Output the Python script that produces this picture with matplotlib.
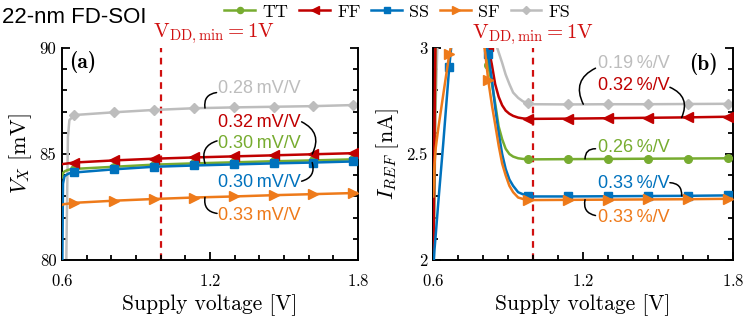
import numpy as np
import matplotlib
matplotlib.use("Agg")
import matplotlib.pyplot as plt
from matplotlib.ticker import MultipleLocator, FuncFormatter
from matplotlib.lines import Line2D

plt.rcParams.update({
    "mathtext.fontset": "cm", "axes.linewidth": 1.4,
    "axes.formatter.use_mathtext": True,
})

corners = ["TT", "FF", "SS", "SF", "FS"]
COL = {"TT": "#77AC30", "FF": "#C00000", "SS": "#0072BD", "SF": "#EE7A1A", "FS": "#BDBDBD"}
MK = {"TT": "o", "FF": "<", "SS": "s", "SF": ">", "FS": "D"}
MS = {"TT": 5.5, "FF": 6.5, "SS": 5.5, "SF": 6.5, "FS": 4.8}

# ---- (a) V_X vs supply voltage [mV] ----
xa = [0.600, 0.604, 0.610, 0.618, 0.624, 0.630, 0.650, 0.811, 0.973, 1.135, 1.297, 1.459, 1.620, 1.780, 1.800]
mark_a = [0.650, 0.811, 0.973, 1.135, 1.297, 1.459, 1.620, 1.780]
va = {
    "TT": [83.90, 84.10, 84.18, 84.22, 84.25, 84.27, 84.30, 84.40, 84.50, 84.56, 84.61, 84.66, 84.70, 84.75, 84.76],
    "FF": [84.52, 84.53, 84.54, 84.55, 84.56, 84.57, 84.60, 84.70, 84.78, 84.84, 84.89, 84.94, 84.99, 85.04, 85.06],
    "SS": [78.00, 83.60, 83.95, 84.02, 84.06, 84.09, 84.13, 84.28, 84.40, 84.46, 84.51, 84.56, 84.60, 84.65, 84.66],
    "SF": [82.60, 82.62, 82.64, 82.65, 82.66, 82.67, 82.70, 82.80, 82.88, 82.95, 83.00, 83.06, 83.11, 83.16, 83.17],
    "FS": [70.00, 70.00, 72.00, 80.50, 85.80, 86.60, 86.84, 86.97, 87.08, 87.16, 87.20, 87.23, 87.26, 87.31, 87.32],
}

# ---- (b) I_REF vs supply voltage [nA] ----
xb = [0.600, 0.605, 0.610, 0.620, 0.640, 0.664, 0.680, 0.720, 0.760, 0.790, 0.808, 0.820, 0.835,
      0.848, 0.862, 0.876, 0.890, 0.905, 0.920, 0.940, 0.960, 0.980, 1.000, 1.140, 1.300, 1.460,
      1.620, 1.780, 1.800]
mark_b = [0.664, 0.820, 0.980, 1.140, 1.300, 1.460, 1.620, 1.780]
ib = {
    "TT": [1.90, 2.40, 3.10, 3.40, 3.60, 3.70, 3.70, 3.70, 3.50, 3.20, 3.00, 2.92, 2.83,
           2.74, 2.63, 2.57, 2.525, 2.50, 2.488, 2.480, 2.477, 2.475, 2.475, 2.476, 2.477, 2.478,
           2.479, 2.480, 2.480],
    "FF": [1.90, 2.60, 3.20, 3.50, 3.70, 3.80, 3.80, 3.80, 3.60, 3.30, 3.08, 3.01, 2.92,
           2.83, 2.77, 2.73, 2.705, 2.69, 2.680, 2.672, 2.668, 2.666, 2.666, 2.667, 2.669, 2.671,
           2.673, 2.676, 2.676],
    "SS": [1.95, 2.05, 2.12, 2.27, 2.55, 2.91, 3.10, 3.40, 3.40, 3.20, 3.06, 2.97, 2.85,
           2.72, 2.60, 2.50, 2.43, 2.38, 2.350, 2.320, 2.310, 2.303, 2.300, 2.300, 2.301, 2.302,
           2.303, 2.305, 2.305],
    "SF": [2.30, 2.45, 2.53, 2.62, 2.78, 2.97, 3.05, 3.30, 3.30, 3.10, 2.98, 2.85, 2.73,
           2.64, 2.54, 2.455, 2.40, 2.35, 2.320, 2.295, 2.288, 2.285, 2.283, 2.284, 2.285, 2.286,
           2.287, 2.289, 2.289],
    "FS": [1.90, 2.30, 2.75, 3.15, 3.50, 3.70, 3.80, 3.90, 3.80, 3.50, 3.30, 3.20, 3.10,
           3.03, 2.98, 2.93, 2.875, 2.83, 2.790, 2.765, 2.748, 2.740, 2.735, 2.734, 2.735, 2.735,
           2.736, 2.737, 2.737],
}

# sensitivity labels: corner, text, text pos, leader start, leader end, arc
lab_a = [("FS", "0.28\u2009mV/V", (1.232, 88.11), (1.227, 87.90), (1.180, 87.17), 0.5),
         ("FF", "0.32\u2009mV/V", (1.232, 86.51), (1.572, 86.52), (1.615, 85.00), -0.5),
         ("TT", "0.30\u2009mV/V", (1.232, 85.52), (1.229, 85.62), (1.180, 84.56), 0.5),
         ("SS", "0.30\u2009mV/V", (1.232, 83.68), (1.572, 83.72), (1.615, 84.60), 0.5),
         ("SF", "0.33\u2009mV/V", (1.232, 82.12), (1.229, 82.20), (1.180, 82.96), -0.5)]
lab_b = [("FS", "0.19\u2009%/V", (1.260, 2.925), (1.250, 2.905), (1.201, 2.735), 0.5),
         ("FF", "0.32\u2009%/V", (1.260, 2.822), (1.548, 2.815), (1.595, 2.672), -0.5),
         ("TT", "0.26\u2009%/V", (1.260, 2.530), (1.250, 2.525), (1.208, 2.477), 0.5),
         ("SS", "0.33\u2009%/V", (1.260, 2.360), (1.548, 2.365), (1.595, 2.303), -0.5),
         ("SF", "0.33\u2009%/V", (1.260, 2.203), (1.250, 2.210), (1.208, 2.285), -0.5)]

SANS = ["Liberation Sans", "DejaVu Sans"]
VRED = "#D01010"

fig = plt.figure(figsize=(7.47, 3.16), dpi=100)
axa = fig.add_axes([0.083, 0.177, 0.396, 0.671])
axb = fig.add_axes([0.580, 0.177, 0.401, 0.671])


def style(ax, ylo, yhi, ymaj, ymin):
    ax.set_xlim(0.6, 1.8); ax.set_ylim(ylo, yhi)
    ax.xaxis.set_major_locator(MultipleLocator(0.6)); ax.xaxis.set_minor_locator(MultipleLocator(0.1))
    ax.yaxis.set_major_locator(MultipleLocator(ymaj)); ax.yaxis.set_minor_locator(MultipleLocator(ymin))
    ax.yaxis.set_major_formatter(FuncFormatter(lambda v, p: f"{v:g}"))
    ax.spines["top"].set_visible(False)
    ax.tick_params(which="both", direction="in", right=True, top=False, width=1.3)
    ax.tick_params(which="major", length=6, labelsize=12)
    ax.tick_params(axis="x", which="major", pad=9)
    ax.tick_params(axis="y", which="major", pad=4)
    ax.tick_params(which="minor", length=3.5)
    for t in ax.get_xticklabels() + ax.get_yticklabels():
        t.set_fontfamily("cmr10")
    ax.set_xlabel("Supply voltage [V]", family="cmr10", fontsize=15.5, labelpad=4)


def curves(ax, x, data, marks):
    idx = [i for i, v in enumerate(x) if np.any(np.isclose(v, marks))]
    for k in corners:
        ax.plot(x, data[k], color=COL[k], lw=1.8, marker=MK[k], ms=MS[k], markevery=idx,
                mec=COL[k], mfc=COL[k], zorder=3 if k != "FS" else 2)


def labels(ax, items):
    for k, txt, tp, a, b, rad in items:
        ax.text(*tp, txt, color=COL[k], family=SANS, fontsize=13, ha="left", va="center")
        ax.annotate("", xy=b, xytext=a,
                    arrowprops=dict(arrowstyle="-", color="black", lw=1.1, shrinkA=0, shrinkB=0,
                                    connectionstyle=f"arc3,rad={rad}"))


curves(axa, xa, va, mark_a)
style(axa, 80, 90, 5, 1)
axa.axvline(1.0, color=VRED, ls=(0, (3, 2.5)), lw=1.6, zorder=1)
labels(axa, lab_a)
axa.set_ylabel(r"$V_X\ [\mathrm{mV}]$", fontsize=16, labelpad=4)
axa.text(0.025, 0.985, "(a)", transform=axa.transAxes, family="cmb10", fontsize=15.5, ha="left", va="top")
axa.text(0.97, 90.68, r"$\mathrm{V_{DD,min}=1V}$", color=VRED, fontsize=15, ha="left", va="center")

curves(axb, xb, ib, mark_b)
style(axb, 2, 3, 0.5, 0.1)
axb.axvline(1.0, color=VRED, ls=(0, (3, 2.5)), lw=1.6, zorder=1)
labels(axb, lab_b)
axb.set_ylabel(r"$I_{REF}\ [\mathrm{nA}]$", fontsize=16, labelpad=4)
axb.text(0.95, 0.975, "(b)", transform=axb.transAxes, family="cmb10", fontsize=15.5, ha="right", va="top")
axb.text(1.0, 3.064, r"$\mathrm{V_{DD,min}=1V}$", color=VRED, fontsize=15, ha="center", va="center")

fig.text(0.003, 0.945, "22-nm FD-SOI", family=SANS, fontsize=16, ha="left", va="center")

handles = [Line2D([], [], color=COL[k], lw=1.8, marker=MK[k], ms=MS[k] * 0.8, mec=COL[k]) for k in corners]
fig.legend(handles, corners, loc="center", bbox_to_anchor=(0.532, 0.963), ncol=5, frameon=False,
           prop={"family": "cmr10", "size": 13}, handlelength=1.7, handletextpad=0.4,
           columnspacing=0.6, borderpad=0, borderaxespad=0)

fig.savefig("out.png", dpi=100)
